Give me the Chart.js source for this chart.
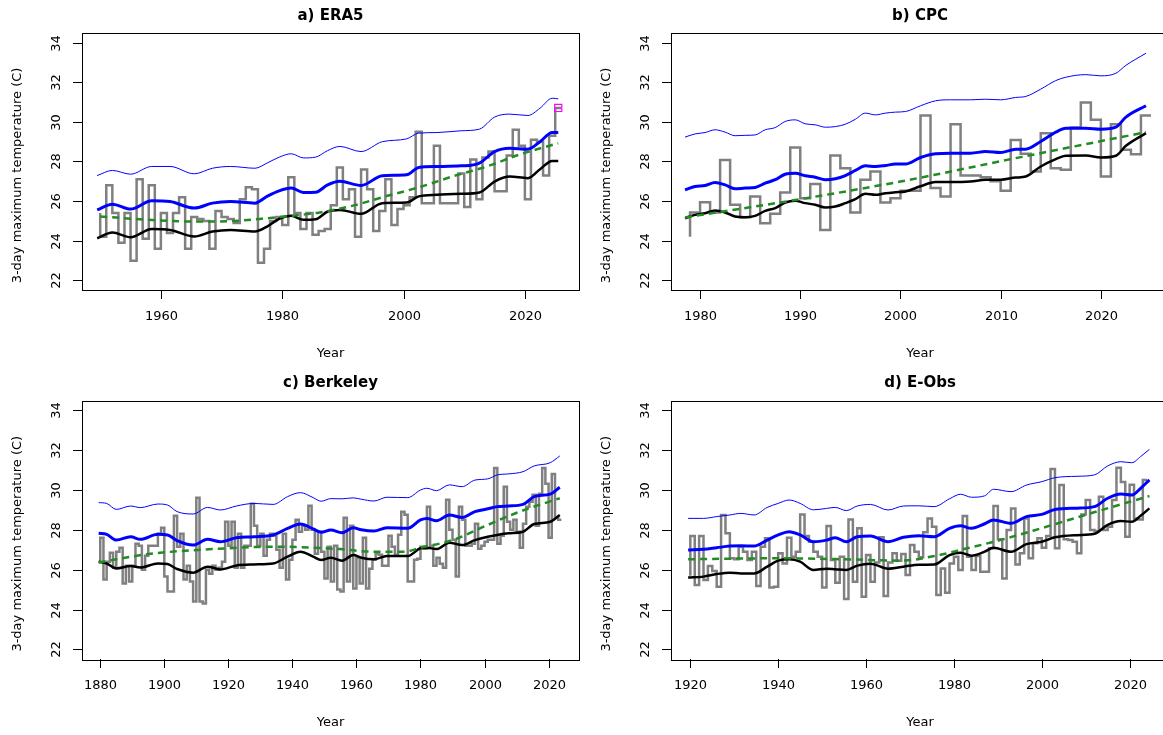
<!DOCTYPE html>
<html>
<head>
<meta charset="utf-8">
<script src="https://cdn.jsdelivr.net/npm/chart.js@4.4.0/dist/chart.umd.min.js"></script>
<style>
  html, body { margin: 0; padding: 0; background: #fff; width: 1163px; height: 735px; overflow: hidden; }
  canvas { position: absolute; }
</style>
</head>
<body>
<canvas id="pa" width="590" height="368" style="left:0;top:0"></canvas>
<canvas id="pb" width="590" height="368" style="left:590px;top:0"></canvas>
<canvas id="pc" width="590" height="367" style="left:0;top:368px"></canvas>
<canvas id="pd" width="590" height="367" style="left:590px;top:368px"></canvas>
<script>
// axis ticks
const yTicks = [22, 24, 26, 28, 30, 32, 34];
const era5XTicks = [1960, 1980, 2000, 2020];
const cpcXTicks = [1980, 1990, 2000, 2010, 2020];
const berkeleyXTicks = [1880, 1900, 1920, 1940, 1960, 1980, 2000, 2020];
const eobsXTicks = [1920, 1940, 1960, 1980, 2000, 2020];

// ---- a) ERA5 ----
const era5Start = 1950;
const era5LeadIn = 25.4;
const era5Annual = [
  24.2, 26.8, 25.4, 23.9, 25.4, 23.0, 27.1, 24.1, 26.8, 23.6,
  25.4, 24.4, 25.4, 26.2, 23.6, 25.2, 25.1, 25.0, 23.6, 25.5,
  25.2, 25.1, 24.9, 26.1, 26.7, 26.6, 22.9, 23.6, 25.0, 25.2,
  24.8, 27.2, 25.4, 24.6, 25.4, 24.3, 24.5, 24.6, 25.8, 27.7,
  26.1, 26.6, 24.2, 27.6, 26.6, 24.5, 25.5, 27.1, 24.8, 25.6,
  25.8, 26.2, 29.5, 25.9, 25.9, 28.8, 25.9, 25.9, 25.9, 27.4,
  25.7, 28.1, 26.1, 28.2, 28.5, 26.5, 26.5, 28.3, 29.6, 28.8,
  26.1, 29.1, 29.0, 27.3, 29.3, 30.7
];
const era5CurveYears = [1949.5, 1952, 1955, 1958.5, 1961.5, 1965.5, 1968.5, 1971.5, 1975.5, 1977.5,
  1979.5, 1981.5, 1983.5, 1985.5, 1987.5, 1989.5, 1993, 1996.5, 2000.5, 2002.5,
  2005.5, 2009.5, 2012.5, 2015, 2017.5, 2020.5, 2022.5, 2024.5, 2025.5];
const era5Upper = [27.29, 27.55, 27.36, 27.75, 27.75, 27.38, 27.66, 27.75, 27.66, 27.92,
  28.22, 28.39, 28.18, 28.22, 28.55, 28.76, 28.5, 29.0, 29.14, 29.43,
  29.46, 29.55, 29.63, 30.24, 30.39, 30.32, 30.69, 31.19, 31.16];
const era5Central = [25.56, 25.85, 25.6, 26.02, 25.98, 25.65, 25.9, 25.98, 25.9, 26.24,
  26.52, 26.66, 26.44, 26.45, 26.82, 27.0, 26.79, 27.28, 27.33, 27.7,
  27.75, 27.78, 27.92, 28.5, 28.67, 28.62, 29.0, 29.46, 29.46];
const era5Lower = [24.13, 24.42, 24.18, 24.59, 24.55, 24.22, 24.47, 24.55, 24.47, 24.72,
  25.11, 25.26, 25.06, 25.09, 25.48, 25.56, 25.36, 25.9, 25.93, 26.24,
  26.32, 26.37, 26.44, 26.99, 27.24, 27.16, 27.61, 28.03, 28.03];
const era5TrendYears = [1950, 1958, 1966, 1972, 1977.5, 1983, 1986, 1992, 1997, 2003, 2008, 2014, 2019, 2025.5];
const era5Trend = [25.23, 25.06, 24.97, 25.0, 25.14, 25.31, 25.42, 25.8, 26.24, 26.74, 27.24, 27.78, 28.34, 28.92];
const era5EventYear = 2025.5;
const era5EventValue = 30.7;

// ---- b) CPC ----
const cpcStart = 1979;
const cpcLeadIn = 24.2;
const cpcAnnual = [
  25.43, 25.95, 25.43, 28.08, 25.82, 25.19, 26.24, 24.89, 25.36, 26.44,
  28.71, 26.15, 26.87, 24.55, 28.3, 27.66, 25.43, 27.08, 27.5, 25.93,
  26.15, 26.52, 26.52, 30.32, 26.66, 26.24, 29.88, 27.29, 27.29, 27.2,
  27.0, 26.52, 29.09, 28.39, 27.5, 29.43, 27.66, 27.58, 29.71, 30.97,
  30.1, 27.24, 29.88, 28.59, 28.37, 30.32
];
const cpcCurveYears = [1978.5, 1979.5, 1980.5, 1981.5, 1982.5, 1983.5, 1984.5, 1985.5, 1986.5, 1987.5,
  1988.5, 1989.5, 1990.5, 1991.5, 1992.5, 1993.5, 1994.5, 1995.5, 1996.5, 1997.5,
  1998.5, 1999.5, 2000.5, 2002, 2003.5, 2005, 2007, 2008.5, 2010, 2011.5,
  2012.5, 2014, 2015.5, 2016.5, 2018.5, 2020, 2021.5, 2022.5, 2024.5];
const cpcUpper = [29.23, 29.39, 29.46, 29.6, 29.48, 29.3, 29.32, 29.34, 29.6, 29.71,
  30.02, 30.1, 29.9, 29.85, 29.73, 29.76, 29.88, 30.13, 30.44, 30.35,
  30.44, 30.49, 30.52, 30.81, 31.06, 31.11, 31.11, 31.14, 31.11, 31.23,
  31.28, 31.65, 32.08, 32.25, 32.38, 32.32, 32.45, 32.85, 33.46];
const cpcCentral = [26.57, 26.74, 26.79, 26.94, 26.82, 26.62, 26.66, 26.69, 26.91, 27.08,
  27.36, 27.41, 27.28, 27.21, 27.08, 27.13, 27.29, 27.55, 27.78, 27.75,
  27.8, 27.87, 27.87, 28.2, 28.39, 28.42, 28.42, 28.5, 28.45, 28.62,
  28.62, 29.01, 29.48, 29.68, 29.68, 29.63, 29.73, 30.24, 30.81];
const cpcLower = [25.14, 25.31, 25.39, 25.53, 25.43, 25.23, 25.19, 25.26, 25.51, 25.65,
  25.93, 26.02, 25.9, 25.82, 25.68, 25.73, 25.9, 26.1, 26.37, 26.32,
  26.4, 26.45, 26.49, 26.75, 26.96, 26.96, 26.99, 27.08, 27.08, 27.19,
  27.24, 27.75, 28.12, 28.29, 28.3, 28.2, 28.29, 28.79, 29.43];
const cpcTrendYears = [1978.5, 1990, 2000, 2012, 2024.5];
const cpcTrend = [25.18, 26.1, 26.99, 28.22, 29.48];

// ---- c) Berkeley ----
const berkeleyStart = 1880;
const berkeleyLeadIn = 26.4;
const berkeleyAnnual = [
  27.6, 25.5, 26.4, 26.85, 26.1, 26.9, 27.1, 25.3, 26.2, 25.4,
  26.2, 27.3, 27.2, 26.0, 26.7, 27.2, 27.2, 27.2, 27.8, 28.1,
  25.65, 24.9, 24.9, 28.7, 27.15, 27.8, 25.5, 26.2, 25.4, 24.4,
  29.6, 24.4, 24.3, 26.0, 25.8, 26.2, 26.0, 26.1, 26.4, 28.4,
  27.2, 28.4, 26.1, 27.8, 26.1, 27.2, 27.2, 29.3, 28.2, 27.2,
  27.8, 26.7, 27.5, 27.8, 27.7, 27.0, 26.1, 27.8, 25.5, 26.5,
  27.5, 28.5, 27.9, 28.2, 28.0, 29.2, 28.0, 26.8, 27.9, 26.9,
  25.55, 27.15, 25.4, 27.2, 25.0, 24.9, 28.6, 25.4, 28.2, 25.05,
  26.6, 25.3, 27.6, 25.05, 26.05, 26.5, 26.8, 26.75, 26.2, 26.2,
  27.7, 27.15, 26.75, 27.75, 28.9, 28.75, 25.4, 25.4, 26.5, 26.55,
  27.15, 27.05, 29.15, 27.2, 26.2, 26.6, 26.3, 26.1, 29.5, 28.0,
  27.5, 25.65, 29.15, 28.5, 27.2, 27.2, 27.3, 28.3, 27.05, 27.2,
  27.4, 27.5, 27.5, 31.1, 27.3, 27.7, 30.15, 28.4, 28.0, 28.5,
  27.9, 27.1, 28.3, 29.15, 29.4, 29.75, 28.2, 29.8, 31.1, 30.3,
  27.6, 30.8, 28.6, 28.5
];
const berkeleyCurveYears = [1879.5, 1882, 1885, 1889.5, 1892.5, 1898, 1901, 1904, 1909, 1913.5,
  1917.5, 1922.5, 1928, 1934, 1938.5, 1942.5, 1946.5, 1949, 1952, 1955.5,
  1959, 1961.5, 1965.5, 1969.5, 1976, 1980, 1982, 1985, 1989, 1993,
  1997, 2001, 2004, 2007.5, 2012, 2015.5, 2020.5, 2023.5];
const berkeleyUpper = [29.36, 29.32, 29.02, 29.19, 29.11, 29.29, 29.24, 28.91, 28.79, 29.12,
  28.99, 29.19, 29.32, 29.27, 29.66, 29.86, 29.61, 29.43, 29.56, 29.55,
  29.6, 29.53, 29.44, 29.63, 29.61, 29.99, 30.08, 29.96, 30.25, 30.16,
  30.49, 30.55, 30.75, 30.8, 30.91, 31.2, 31.36, 31.7];
const berkeleyCentral = [27.82, 27.77, 27.48, 27.65, 27.52, 27.77, 27.74, 27.45, 27.23, 27.52,
  27.4, 27.6, 27.65, 27.74, 28.07, 28.29, 28.04, 27.87, 27.99, 27.85,
  28.1, 28.0, 27.94, 28.1, 28.07, 28.49, 28.57, 28.45, 28.74, 28.62,
  28.91, 29.05, 29.16, 29.19, 29.27, 29.66, 29.79, 30.13];
const berkeleyLower = [26.4, 26.31, 26.06, 26.18, 26.11, 26.31, 26.28, 26.03, 25.85, 26.15,
  26.01, 26.21, 26.26, 26.31, 26.65, 26.9, 26.65, 26.48, 26.6, 26.45,
  26.73, 26.6, 26.52, 26.68, 26.68, 27.07, 27.1, 27.03, 27.35, 27.23,
  27.48, 27.65, 27.74, 27.82, 27.9, 28.29, 28.4, 28.74];
const berkeleyTrendYears = [1879.5, 1895, 1915, 1935, 1955, 1965, 1975, 1980, 1990, 2001, 2011, 2023.5];
const berkeleyTrend = [26.36, 26.78, 27.03, 27.15, 27.03, 26.9, 26.9, 27.1, 27.48, 28.24, 28.91, 29.58];

// ---- d) E-Obs ----
const eobsStart = 1920;
const eobsLeadIn = 25.7;
const eobsAnnual = [
  27.69, 25.23, 27.69, 25.48, 26.18, 25.93, 25.14, 28.74, 27.82, 26.57,
  26.52, 27.15, 26.9, 26.48, 26.9, 25.18, 27.15, 27.57, 25.11, 25.14,
  26.82, 26.31, 27.6, 26.65, 26.9, 28.77, 27.69, 27.4, 26.9, 26.65,
  25.11, 28.19, 26.48, 25.34, 26.65, 24.53, 28.52, 25.39, 28.07, 24.64,
  26.73, 25.39, 26.36, 27.62, 24.68, 26.36, 26.82, 26.45, 26.78, 25.73,
  27.23, 26.9, 26.62, 27.87, 28.57, 28.15, 24.73, 26.06, 24.84, 26.31,
  26.65, 25.98, 28.69, 26.65, 25.98, 26.68, 25.9, 25.9, 27.07, 29.19,
  27.52, 25.56, 27.99, 29.07, 26.26, 26.82, 28.57, 26.57, 27.32, 27.57,
  27.1, 27.69, 31.05, 27.07, 30.24, 27.52, 27.48, 27.4, 26.82, 28.77,
  29.49, 27.99, 27.94, 29.66, 27.99, 28.15, 29.49, 31.11, 30.39, 27.65,
  30.26, 28.57, 28.52, 30.5
];
const eobsCurveYears = [1919.5, 1923, 1926, 1929, 1931.5, 1934.5, 1937.5, 1940, 1942.5, 1945,
  1948, 1951, 1953, 1955.5, 1958, 1961, 1965, 1968.5, 1972, 1975.5,
  1979, 1981.5, 1984, 1987, 1989, 1993, 1996.5, 2000, 2003, 2008,
  2012, 2015, 2018, 2020.5, 2022.5, 2024.5];
const eobsUpper = [28.57, 28.57, 28.66, 28.74, 28.82, 28.74, 29.12, 29.32, 29.49, 29.32,
  29.0, 29.07, 29.12, 28.96, 29.19, 29.27, 28.99, 29.19, 29.2, 29.16,
  29.55, 29.78, 29.63, 29.7, 30.03, 29.91, 30.24, 30.41, 30.61, 30.68,
  30.75, 31.2, 31.41, 31.36, 31.67, 32.03];
const eobsCentral = [26.98, 27.02, 27.1, 27.18, 27.2, 27.18, 27.48, 27.74, 27.9, 27.74,
  27.4, 27.48, 27.6, 27.4, 27.65, 27.69, 27.4, 27.62, 27.7, 27.65,
  28.07, 28.2, 28.07, 28.3, 28.49, 28.32, 28.66, 28.77, 29.02, 29.08,
  29.16, 29.58, 29.79, 29.74, 30.08, 30.5];
const eobsLower = [25.6, 25.65, 25.78, 25.85, 25.81, 25.81, 26.15, 26.45, 26.52, 26.4,
  25.98, 26.05, 26.02, 25.98, 26.2, 26.3, 26.05, 26.15, 26.25, 26.26,
  26.73, 26.85, 26.7, 26.9, 27.1, 26.9, 27.28, 27.4, 27.62, 27.73,
  27.8, 28.25, 28.44, 28.4, 28.7, 29.07];
const eobsTrendYears = [1919.5, 1940, 1955, 1968, 1975.5, 1983, 1990.5, 1998, 2005.5, 2013.5, 2024.5];
const eobsTrend = [26.52, 26.57, 26.52, 26.45, 26.68, 27.07, 27.48, 27.95, 28.45, 28.98, 29.69];

const yLabel = '3-day maximum temperature (C)';
const xLabel = 'Year';

// step outline: lead-in stub, one flat step per year, closing point after the last year
function stepPoints(start, leadIn, vals) {
  const pts = [{ x: start, y: leadIn }];
  vals.forEach((v, i) => pts.push({ x: start + i, y: v }));
  pts.push({ x: start + vals.length, y: vals[vals.length - 1] });
  return pts;
}
function zip(xs, ys) {
  return xs.map((x, i) => ({ x: x, y: ys[i] }));
}

// frame, ticks and labels drawn R-style from the chart's own scales
const rFrame = {
  id: 'rFrame',
  afterDraw(chart, args, opts) {
    const { ctx, chartArea: a, scales: { x, y } } = chart;
    ctx.save();
    ctx.strokeStyle = '#000';
    ctx.fillStyle = '#000';
    ctx.lineWidth = 1;
    ctx.strokeRect(Math.round(a.left) + 0.5, Math.round(a.top) + 0.5,
      Math.round(a.right - a.left), Math.round(a.bottom - a.top));
    ctx.font = '13px "DejaVu Sans"';
    ctx.textAlign = 'center';
    ctx.textBaseline = 'middle';
    opts.xTicks.forEach(v => {
      const px = Math.round(x.getPixelForValue(v)) + 0.5;
      ctx.beginPath();
      ctx.moveTo(px, a.bottom);
      ctx.lineTo(px, a.bottom + 9);
      ctx.stroke();
      ctx.fillText(String(v), px, a.bottom + 27);
    });
    yTicks.forEach(v => {
      const py = Math.round(y.getPixelForValue(v)) + 0.5;
      ctx.beginPath();
      ctx.moveTo(a.left, py);
      ctx.lineTo(a.left - 9, py);
      ctx.stroke();
      ctx.save();
      ctx.translate(a.left - 25, py);
      ctx.rotate(-Math.PI / 2);
      ctx.fillText(String(v), 0, 0);
      ctx.restore();
    });
    ctx.fillText(xLabel, (a.left + a.right) / 2, a.bottom + 64);
    ctx.save();
    ctx.translate(a.left - 64, (a.top + a.bottom) / 2 + 14);
    ctx.rotate(-Math.PI / 2);
    ctx.fillText(yLabel, 0, 0);
    ctx.restore();
    ctx.font = 'bold 15px "DejaVu Sans"';
    ctx.fillText(opts.title, (a.left + a.right) / 2, a.top - 17);
    ctx.restore();
  }
};

function makePanel(id, p) {
  const datasets = [];
  if (p.event) {
    datasets.push({
      data: [p.event], showLine: false, pointStyle: 'rect', pointRadius: 5,
      borderColor: '#ff00ff', backgroundColor: 'rgba(0,0,0,0)', borderWidth: 1.2
    });
  }
  datasets.push(
    { data: zip(p.trendYears, p.trend), borderColor: '#228b22', borderWidth: 2.5,
      borderDash: [7, 5], cubicInterpolationMode: 'monotone', pointRadius: 0 },
    { data: zip(p.curveYears, p.lower), borderColor: '#000000', borderWidth: 2.5,
      cubicInterpolationMode: 'monotone', pointRadius: 0 },
    { data: zip(p.curveYears, p.upper), borderColor: '#0000ff', borderWidth: 1,
      cubicInterpolationMode: 'monotone', pointRadius: 0 },
    { data: zip(p.curveYears, p.central), borderColor: '#0000ff', borderWidth: 3,
      cubicInterpolationMode: 'monotone', pointRadius: 0 },
    { data: stepPoints(p.start, p.leadIn, p.annual), borderColor: '#808080', borderWidth: 2.5,
      stepped: 'before', pointRadius: 0 }
  );
  new Chart(document.getElementById(id), {
    type: 'line',
    data: { datasets: datasets },
    options: {
      responsive: false,
      animation: false,
      devicePixelRatio: 1,
      layout: { padding: p.pad },
      plugins: {
        legend: { display: false },
        tooltip: { enabled: false },
        rFrame: { title: p.title, xTicks: p.xTicks }
      },
      scales: {
        x: { type: 'linear', display: false, min: p.xMin, max: p.xMax },
        y: { type: 'linear', display: false, min: 21.52, max: 34.48 }
      }
    },
    plugins: [rFrame]
  });
}

makePanel('pa', {
  title: 'a) ERA5', xTicks: era5XTicks, xMin: 1947.0, xMax: 2028.92,
  pad: { left: 82, top: 33, right: 11, bottom: 78 },
  start: era5Start, leadIn: era5LeadIn, annual: era5Annual,
  curveYears: era5CurveYears, upper: era5Upper, central: era5Central, lower: era5Lower,
  trendYears: era5TrendYears, trend: era5Trend,
  event: { x: era5EventYear, y: era5EventValue }
});
makePanel('pb', {
  title: 'b) CPC', xTicks: cpcXTicks, xMin: 1977.1, xMax: 2026.8,
  pad: { left: 81, top: 33, right: 11, bottom: 78 },
  start: cpcStart, leadIn: cpcLeadIn, annual: cpcAnnual,
  curveYears: cpcCurveYears, upper: cpcUpper, central: cpcCentral, lower: cpcLower,
  trendYears: cpcTrendYears, trend: cpcTrend
});
makePanel('pc', {
  title: 'c) Berkeley', xTicks: berkeleyXTicks, xMin: 1874.3, xMax: 2029.5,
  pad: { left: 82, top: 32.5, right: 11, bottom: 76 },
  start: berkeleyStart, leadIn: berkeleyLeadIn, annual: berkeleyAnnual,
  curveYears: berkeleyCurveYears, upper: berkeleyUpper, central: berkeleyCentral, lower: berkeleyLower,
  trendYears: berkeleyTrendYears, trend: berkeleyTrend
});
makePanel('pd', {
  title: 'd) E-Obs', xTicks: eobsXTicks, xMin: 1915.6, xMax: 2028.96,
  pad: { left: 81, top: 32.5, right: 11, bottom: 76 },
  start: eobsStart, leadIn: eobsLeadIn, annual: eobsAnnual,
  curveYears: eobsCurveYears, upper: eobsUpper, central: eobsCentral, lower: eobsLower,
  trendYears: eobsTrendYears, trend: eobsTrend
});
</script>
</body>
</html>
